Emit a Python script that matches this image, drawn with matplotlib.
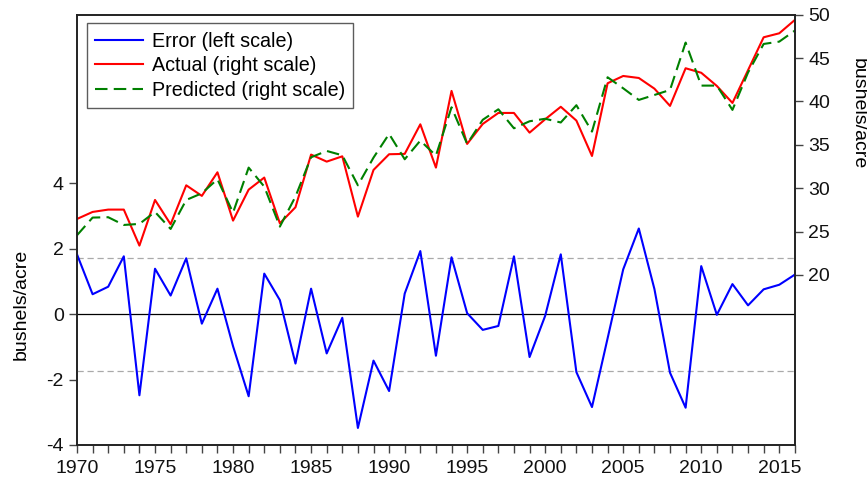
import matplotlib.pyplot as plt
import numpy as np

plt.rcParams['font.family'] = ['Liberation Sans', 'DejaVu Sans']
plt.rcParams['axes.unicode_minus'] = False

years = list(range(1970, 2017))

# residuals, left scale
error = [1.83, 0.61, 0.84, 1.77, -2.48, 1.39, 0.57, 1.71, -0.29, 0.78,
         -0.98, -2.51, 1.24, 0.43, -1.51, 0.78, -1.20, -0.11, -3.48, -1.42,
         -2.35, 0.63, 1.93, -1.27, 1.74, 0.03, -0.48, -0.36, 1.77, -1.31,
         -0.05, 1.83, -1.77, -2.84, -0.74, 1.37, 2.62, 0.77, -1.79, -2.86,
         1.47, -0.02, 0.92, 0.27, 0.76, 0.90, 1.21]

# yields, right scale
actual = [26.45, 27.26, 27.53, 27.53, 23.38, 28.64, 25.84, 30.33, 29.11, 31.83,
          26.26, 29.83, 31.22, 25.95, 27.80, 33.87, 33.06, 33.67, 26.72, 32.10,
          33.91, 33.95, 37.36, 32.37, 41.21, 35.10, 37.40, 38.67, 38.67, 36.40,
          37.94, 39.38, 37.79, 33.71, 42.09, 42.93, 42.70, 41.47, 39.48, 43.82,
          43.30, 41.78, 39.82, 43.60, 47.39, 47.85, 49.39]

predicted = [24.57, 26.61, 26.65, 25.76, 25.88, 27.26, 25.30, 28.64, 29.41, 31.03,
             27.18, 32.37, 30.18, 25.57, 29.03, 33.56, 34.29, 33.79, 30.33, 33.52,
             36.25, 33.33, 35.48, 33.75, 39.32, 35.10, 37.88, 39.09, 36.90, 37.71,
             38.00, 37.57, 39.56, 36.52, 42.78, 41.51, 40.17, 40.74, 41.32, 46.78,
             41.82, 41.82, 39.02, 43.33, 46.62, 46.89, 48.16]

se = 1.73

fig = plt.figure(figsize=(8.67, 4.83), dpi=100)
ax = fig.add_axes([0.0888, 0.0787, 0.828, 0.891])
ax2 = ax.twinx()

# left scale: residual with +/- 1 s.e. bands
ax.axhline(0, color='black', lw=0.9, zorder=1)
ax.axhline(se, color='#aaaaaa', lw=0.9, ls=(0, (5, 3)), zorder=1)
ax.axhline(-se, color='#aaaaaa', lw=0.9, ls=(0, (5, 3)), zorder=1)
l1, = ax.plot(years, error, color='#0000ff', lw=1.5, label='Error (left scale)')

l2, = ax2.plot(years, actual, color='#ff0000', lw=1.5, label='Actual (right scale)')
l3, = ax2.plot(years, predicted, color='#008000', lw=1.5, ls=(0, (6, 3)),
               label='Predicted (right scale)')

ax.set_xlim(1970, 2016)
ax.set_ylim(-4, 9.16)
ax2.set_ylim(0.4, 50)
ax.set_yticks([-4, -2, 0, 2, 4])
ax2.set_yticks([20, 25, 30, 35, 40, 45, 50])
ax.set_xticks(range(1970, 2016, 5))
ax.set_xticks(years, minor=True)

for a in (ax, ax2):
    a.tick_params(axis='both', which='both', direction='out', length=6,
                  width=1, color='#444444', labelsize=14, labelcolor='#111111')
    for s in a.spines.values():
        s.set_linewidth(1.2)
        s.set_color('#222222')
ax.tick_params(axis='x', pad=5)

ax.set_zorder(ax2.get_zorder() + 1)
ax.patch.set_visible(False)

fig.text(0.025, 0.37, 'bushels/acre', rotation=90, ha='center', va='center', fontsize=14)
fig.text(0.99, 0.765, 'bushels/acre', rotation=270, ha='center', va='center', fontsize=14)

leg = ax.legend(handles=[l1, l2, l3], loc='upper left', bbox_to_anchor=(0.014, 0.98),
                fontsize=14.2, frameon=True, fancybox=False, handlelength=2.4,
                borderpad=0.42, labelspacing=0.28, handletextpad=0.45, borderaxespad=0)
leg.get_frame().set_edgecolor('#333333')
leg.get_frame().set_linewidth(1.0)

fig.savefig('out.png', dpi=100)
